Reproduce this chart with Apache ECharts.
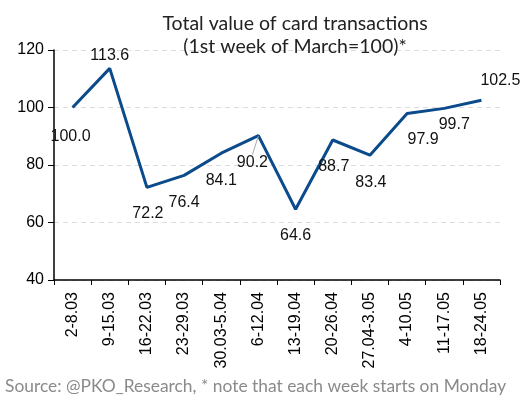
<!DOCTYPE html>
<html><head><meta charset="utf-8">
<script src="https://cdn.jsdelivr.net/npm/echarts@6/dist/echarts.min.js"></script>
<style>html,body{margin:0;padding:0;background:#fff}#c{width:529px;height:408px}</style>
</head><body><div id="c"></div>
<script>
const categories = ['2-8.03','9-15.03','16-22.03','23-29.03','30.03-5.04','6-12.04','13-19.04','20-26.04','27.04-3.05','4-10.05','11-17.05','18-24.05'];
const values = [100.0,113.6,72.2,76.4,84.1,90.2,64.6,88.7,83.4,97.9,99.7,102.5];
const yTicks = [40,60,80,100,120];
const titleLines = ['Total value of card transactions','(1st week of March=100)*'];
const sourceText = 'Source: @PKO_Research, * note that each week starts on Monday';
// label placement tweaks [dx, dy] relative to point (layout only)
const labelShift = [[-2,29],[0,-13],[1,26],[0,27],[0,27],[-6,27],[0,26],[1,27],[1,27],[16,26],[10,16],[19,-20]];

const chart = echarts.init(document.getElementById('c'));
const FONT = 'Liberation Sans';
chart.setOption({
  animation:false,
  title:{text:titleLines.join('\n'), left:290, top:7, textAlign:'center',
    textStyle:{fontFamily:'Lato', fontWeight:'normal', fontSize:19.5, color:'#222', lineHeight:23}},
  graphic:[{type:'text', left:5, top:378, style:{text:sourceText, fontFamily:'Lato', fontSize:17.4, fill:'#8a8a8a'}}],
  grid:{left:54, right:29, top:50, bottom:128},
  xAxis:{type:'category', data:categories, boundaryGap:true,
    axisLine:{lineStyle:{color:'#000', width:1.5}},
    axisTick:{show:true, alignWithLabel:false, length:5, lineStyle:{color:'#000'}},
    axisLabel:{rotate:90, interval:0, fontFamily:FONT, fontSize:16, color:'#000', margin:12}},
  yAxis:{type:'value', min:yTicks[0], max:yTicks[yTicks.length-1], interval:20,
    axisLine:{show:true, lineStyle:{color:'#000', width:1.5}},
    axisTick:{show:true, length:6, lineStyle:{color:'#000'}},
    axisLabel:{fontFamily:FONT, fontSize:16, color:'#000', margin:10},
    splitLine:{show:true, lineStyle:{color:'#dcdcdc', type:[5,4]}}},
  series:[{type:'line', data:values.map((v,i)=>({value:v, labelLine:{show:i===5}})),
    symbol:'circle', symbolSize:1, showSymbol:true, itemStyle:{color:'rgba(0,0,0,0)'},
    lineStyle:{color:'#0b4a8b', width:3},
    label:{show:true, position:'inside', fontFamily:FONT, fontSize:16, color:'#111',
      formatter:p=>p.value.toFixed(1)},
    labelLine:{show:false, lineStyle:{color:'#aaa', width:1}},
    labelLayout:p=>({dx:labelShift[p.dataIndex][0], dy:labelShift[p.dataIndex][1]})
  }]
});
</script></body></html>
